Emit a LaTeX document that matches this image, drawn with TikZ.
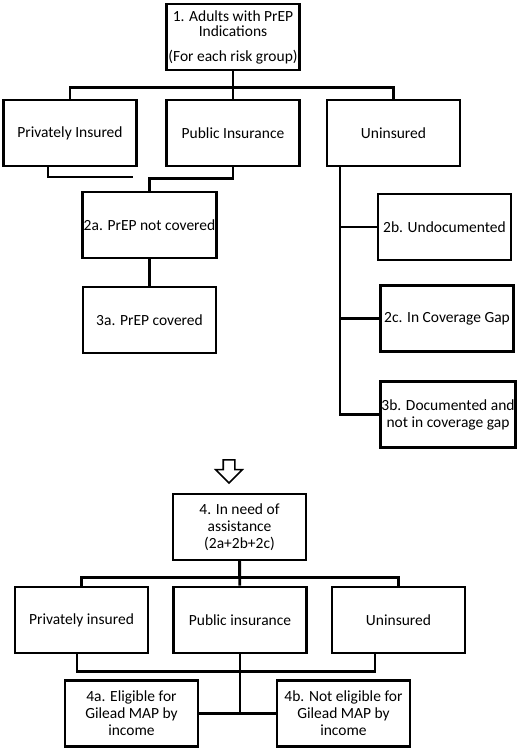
\documentclass[tikz,border=0pt]{standalone}
\usepackage{fontspec}
\setmainfont{Carlito}
\usetikzlibrary{shapes.arrows}

\begin{document}
\begin{tikzpicture}[x=1pt,y=-1pt,line width=2.8pt,
    font=\fontsize{15.5}{17}\selectfont]

      \useasboundingbox (0,0) rectangle (519,750);

      \begin{scope}[every node/.style={rectangle,draw,align=center,
          minimum width=133,minimum height=66,inner sep=1pt}]
        \node (1)      at (233,37)    {1. Adults with PrEP\\[-2pt]Indications\\[8pt](For each risk group)};
        \node (priv)   at (70,133)    {Privately Insured};
        \node (pub)    at (233,133)   {Public Insurance};
        \node (unins)  at (393.5,133) {Uninsured};
        \node (2a)     at (149.5,225) {2a. PrEP not covered};
        \node (3a)     at (149.5,320) {3a. PrEP covered};
        \node (2b)     at (444.5,227) {2b. Undocumented};
        \node (2c)     at (447,318.5) {2c. In Coverage Gap};
        \node (3b)     at (448,414.5) {3b. Documented and\\not in coverage gap};

        \node (4)      at (239.5,527)  {4. In need of\\assistance\\(2a+2b+2c)};
        \node (priv2)  at (81.5,620)   {Privately insured};
        \node (pub2)   at (240,620)    {Public insurance};
        \node (unins2) at (398.5,620)  {Uninsured};
        \node (4a)     at (131.5,713.5) {4a. Eligible for\\Gilead MAP by\\income};
        \node (4b)     at (343.5,713.5) {4b. Not eligible for\\Gilead MAP by\\income};
      \end{scope}

      \node[single arrow,draw,line width=1.6pt,shape border rotate=270,
        minimum height=23,inner sep=5,single arrow head extend=7.5]
        (down) at (229,468.5) {};

      % top tree
      \draw (1) -- (pub);
      \draw (1.south) -- ++(0,16) -| (priv.north);
      \draw (1.south) -- ++(0,16) -| (unins.north);
      \coordinate (stub) at (133,177);
      \draw ([xshift=-22]priv.south) |- (stub);
      \draw (pub.south) -- ++(0,11) -| (2a.north);
      \draw (2a) -- (3a);

      \coordinate (trunk) at ([xshift=-53.5]unins.south);
      \draw (trunk) |- (3b.west);
      \draw (2b.west) -- (2b.west -| trunk);
      \draw (2c.west) -- (2c.west -| trunk);

      % bottom tree
      \draw (4) -- (pub2);
      \draw (4.south) -- ++(0,16) -| (priv2.north);
      \draw (4.south) -- ++(0,16) -| (unins2.north);
      \draw ([xshift=-4.5]priv2.south) -- ++(0,17) -| ([xshift=-23.5]unins2.south);
      \draw (pub2) -- (pub2 |- 4a.east);
      \draw (4a.east) -- (4b.west);

    \end{tikzpicture}
\end{document}
